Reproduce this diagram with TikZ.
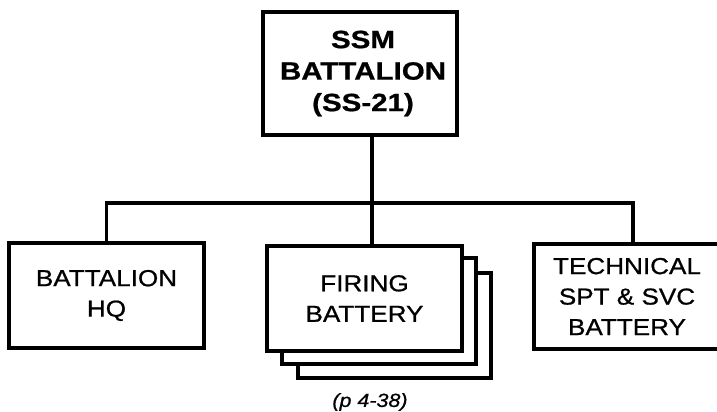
\documentclass[tikz,border=0pt]{standalone}
\usepackage{fontspec}
\setmainfont[FakeStretch=1.13,FakeBold=0.8]{Liberation Sans}
\newfontfamily\hdfont[FakeStretch=1.18,FakeBold=0.8]{Liberation Sans}
\begin{document}
\begin{tikzpicture}[x=1pt,y=-1pt,
  box/.style={draw, line width=3.2pt, fill=white, inner sep=0pt, align=center,
    font=\fontsize{23.1}{30.5}\selectfont},
  topbox/.style={box, font=\hdfont\bfseries\fontsize{25}{31.5}\selectfont},
  conn/.style={draw, line width=3.2pt}]
\useasboundingbox (0,0) rectangle (717,412);
\node[topbox, minimum width=194pt, minimum height=123pt] (top) at (360,73.5)
  {\hspace*{6pt}SSM\\\hspace*{6pt}BATTALION\\\hspace*{6pt}(SS-21)};
\node[box, minimum width=195pt, minimum height=105pt] (hq) at (106.5,295.5)
  {BATTALION\\HQ};
\node[box, minimum width=193pt, minimum height=105pt] (fire3) at (394.5,325.5) {};
\node[box, minimum width=194pt, minimum height=106pt] (fire2) at (379,311) {};
\node[box, minimum width=195pt, minimum height=105pt] (fire) at (364.5,298.5)
  {FIRING\\BATTERY};
\node[box, minimum width=186pt, minimum height=105pt] (tech) at (627,296.5)
  {TECHNICAL\\SPT \& SVC\\BATTERY};
\node[font=\itshape\fontsize{19}{22}\selectfont] (cap) at (370,402) {(p 4-38)};
\coordinate (j) at (372,203);
\draw[conn] ([xshift=12pt]top.south) -- (j);
\draw[conn] (hq.north) |- (j) -| ([xshift=6pt]tech.north);
\draw[conn] (j) -- ([xshift=7.5pt]fire.north);
\end{tikzpicture}
\end{document}
